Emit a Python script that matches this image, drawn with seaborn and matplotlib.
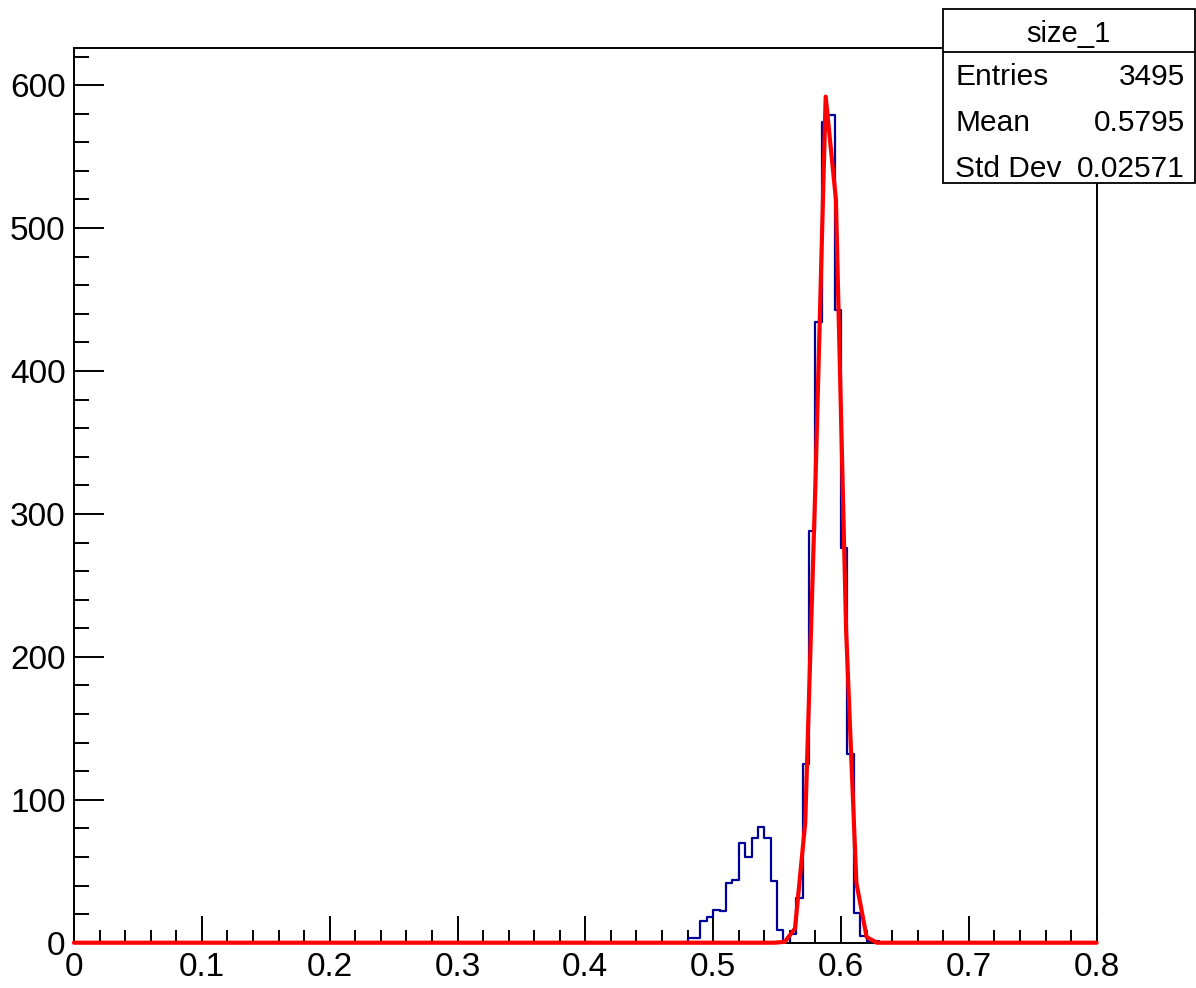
import numpy as np
import pandas as pd
import matplotlib
matplotlib.use("Agg")
import matplotlib.pyplot as plt
import seaborn as sns
from matplotlib.patches import Rectangle
from matplotlib.lines import Line2D
from matplotlib.ticker import MultipleLocator

# ---------------- data ----------------
hist_name = "size_1"
x_min, x_max, n_bins = 0.0, 0.8, 160
first_filled_bin = 0.48           # low edge of first non-empty bin
bin_counts = [3, 3, 15, 18, 23, 22, 42, 44, 70, 60, 73, 81, 73, 43, 9,
              0, 6, 31, 125, 288, 434, 574, 579, 443, 276, 132, 21, 5, 1, 1]

fit_x = [0.0, 0.548, 0.556, 0.564, 0.572, 0.580, 0.588, 0.596, 0.604,
         0.612, 0.620, 0.628, 0.8]
fit_y = [0, 0, 0.6, 10, 84, 322, 592, 520, 218, 42, 4, 0, 0]

x_tick_values = [0, 0.1, 0.2, 0.3, 0.4, 0.5, 0.6, 0.7, 0.8]
x_tick_labels = ["0", "0.1", "0.2", "0.3", "0.4", "0.5", "0.6", "0.7", "0.8"]
y_tick_values = [0, 100, 200, 300, 400, 500, 600]
y_tick_labels = ["0", "100", "200", "300", "400", "500", "600"]
y_top = 626

stats_labels = ["Entries", "Mean", "Std Dev"]
stats_values = ["3495", "0.5795", "0.02571"]

# ---------------- build histogram arrays ----------------
edges = np.linspace(x_min, x_max, n_bins + 1)
centers = 0.5 * (edges[:-1] + edges[1:])
counts = np.zeros(n_bins)
start = int(round((first_filled_bin - x_min) / (x_max - x_min) * n_bins))
counts[start:start + len(bin_counts)] = bin_counts
hist_df = pd.DataFrame({"value": centers, "count": counts})
fit_df = pd.DataFrame({"x": fit_x, "y": fit_y})

# ---------------- figure ----------------
sns.set_theme(style="white")
plt.rcParams["font.family"] = ["Liberation Sans", "DejaVu Sans"]

W, H = 1196, 988
fig = plt.figure(figsize=(W / 100, H / 100), dpi=100)
fig.patch.set_facecolor("white")

L, R, T, B = 74, 1096.7, 48, 942.7
ax = fig.add_axes([L / W, 1 - B / H, (R - L) / W, (B - T) / H])
ax.set_facecolor("white")

sns.histplot(data=hist_df, x="value", weights="count", bins=edges.tolist(), element="step",
             fill=False, color="#000099", linewidth=1.6, ax=ax)
sns.lineplot(data=fit_df, x="x", y="y", color="#ff0000", linewidth=3.0, estimator=None,
             ax=ax, zorder=5, clip_on=False)

ax.set_xlim(x_min, x_max)
ax.set_ylim(0, y_top)
ax.set_xlabel("")
ax.set_ylabel("")

ax.set_xticks(x_tick_values)
ax.set_xticklabels(x_tick_labels)
ax.set_yticks(y_tick_values)
ax.set_yticklabels(y_tick_labels)
ax.xaxis.set_minor_locator(MultipleLocator(0.02))
ax.yaxis.set_minor_locator(MultipleLocator(20))

ax.tick_params(which="both", direction="in", top=False, right=False,
               bottom=True, left=True, color="black", width=1.4)
ax.tick_params(axis="x", which="major", length=19.5, pad=7, labelsize=24, labelcolor="black")
ax.tick_params(axis="x", which="minor", length=9.5)
ax.tick_params(axis="y", which="major", length=21.5, pad=6, labelsize=24, labelcolor="black")
ax.tick_params(axis="y", which="minor", length=10.8)

for s in ax.spines.values():
    s.set_visible(True)
    s.set_color("black")
    s.set_linewidth(1.4)

# ---------------- stats box ----------------
def fx(px):
    return px / W

def fy(py):
    return 1 - py / H

bx0, bx1, by0, by1, bdiv = 943, 1195, 9.3, 182.7, 51.7
fig.patches.append(Rectangle((fx(bx0), fy(by1)), fx(bx1) - fx(bx0), fy(by0) - fy(by1),
                             transform=fig.transFigure, facecolor="white",
                             edgecolor="black", linewidth=1.3, zorder=10))
fig.lines.append(Line2D([fx(bx0), fx(bx1)], [fy(bdiv), fy(bdiv)],
                        transform=fig.transFigure, color="black", linewidth=1.3, zorder=11))

fig.text(fx(1068), fy(41.7), hist_name, ha="center", va="baseline",
         fontsize=21, color="black", zorder=12)
baselines = [85, 130.7, 176.7]
for lab, val, yb in zip(stats_labels, stats_values, baselines):
    fig.text(fx(955), fy(yb), lab, ha="left", va="baseline", fontsize=21.5,
             color="black", zorder=12)
    fig.text(fx(1185), fy(yb), val, ha="right", va="baseline", fontsize=21.5,
             color="black", zorder=12)

fig.savefig("out.png", dpi=100)
